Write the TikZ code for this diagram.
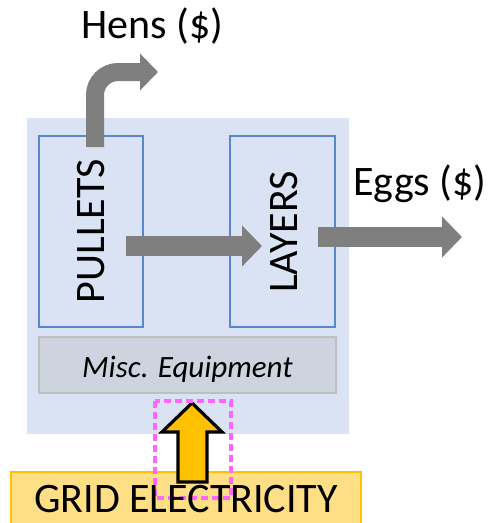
\documentclass[tikz,border=0pt]{standalone}
\usepackage{fontspec}
\setmainfont{Carlito}
\usetikzlibrary{arrows.meta}

\definecolor{panelblue}{HTML}{DAE3F3}
\definecolor{boxedge}{HTML}{5A86D0}
\definecolor{flowgray}{HTML}{7F7F7F}
\definecolor{miscfill}{HTML}{CDD4DF}
\definecolor{miscedge}{HTML}{BFBFBF}
\definecolor{gridfill}{HTML}{FFDF85}
\definecolor{gridedge}{HTML}{FFC000}
\definecolor{powerfill}{HTML}{FFC000}
\definecolor{dashpink}{HTML}{FF66FF}

\tikzset{
  stagebox/.style={draw=boxedge, line width=1.2pt, fill=panelblue},
  bigtext/.style={font=\fontsize{42}{50}\selectfont, inner sep=0pt},
  flow/.style={draw=flowgray, line width=20pt,
    -{Triangle[length=20pt 0, width=40pt 0]}},
  thinflow/.style={draw=flowgray, line width=18pt,
    -{Triangle[length=18pt 0, width=36pt 0]}},
}

\begin{document}
\begin{tikzpicture}[x=1pt, y=-1pt]
  \useasboundingbox (0,0) rectangle (493,523);
  \clip (0,0) rectangle (493,523);

  % farm panel
  \fill[panelblue] (27,118) rectangle (349,434);

  % production stages
  \draw[stagebox] (39,136) rectangle (143,327);
  \draw[stagebox] (230,136) rectangle (335,327);
  \node[bigtext, rotate=90] (pul) at (91,231) {PULLETS};
  \node[bigtext, rotate=90] (lay) at (284,232) {LAYERS};

  % equipment strip
  \draw[draw=miscedge, line width=1.5pt, fill=miscfill] (39,337) rectangle (336,393);
  \node[font=\fontsize{31}{37}\selectfont\itshape, inner sep=0pt, anchor=base] (misc) at (187.5,377) {Misc. Equipment};

  % utility supply
  \draw[draw=gridedge, line width=1.5pt, fill=gridfill] (11,472) rectangle (361,535);

  % product flows
  \coordinate (pulout) at (126,246);
  \coordinate (layin) at (262,246);
  \draw[flow] (pulout) -- (layin);

  \coordinate (layout) at (318,237);
  \coordinate (eggsend) at (462,237);
  \draw[flow] (layout) -- (eggsend);

  \coordinate (pultop) at (95,147);
  \coordinate (hensend) at (158,72);
  \draw[thinflow, rounded corners=23pt] (pultop) |- (hensend);

  \node[bigtext, anchor=base] (hens) at (152.5,38) {Hens (\$)};
  \node[bigtext, anchor=base] (eggs) at (420,195) {Eggs (\$)};

  % electricity feed into the equipment
  \coordinate (powtip) at (192,403);
  \draw[line width=3.2pt, line join=miter, fill=powerfill]
    (powtip) -- (222,432) -- (207,432) -- (207,482) -- (178,482)
    -- (178,432) -- (162,432) -- cycle;

  \draw[dashpink, line width=3.5pt, dash pattern=on 7pt off 4pt] (155,401) rectangle (231,498);

  \node[bigtext, anchor=base] (grid) at (186,512) {GRID ELECTRICITY};
\end{tikzpicture}
\end{document}
